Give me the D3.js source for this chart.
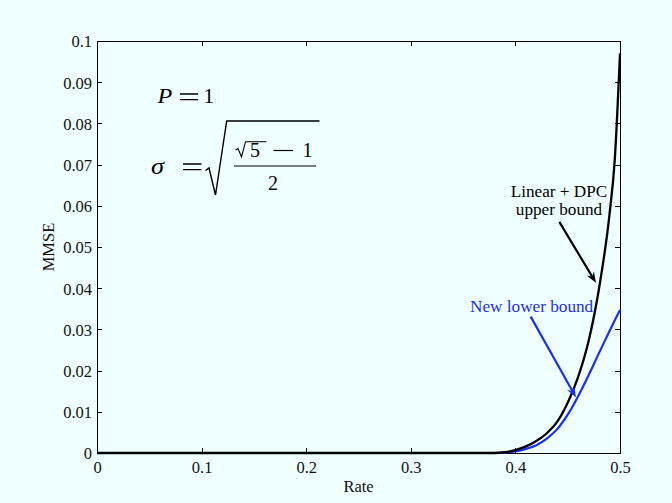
<!DOCTYPE html>
<html>
<head>
<meta charset="utf-8">
<script src="https://cdn.jsdelivr.net/npm/d3@7/dist/d3.min.js"></script>
<style>
  html, body { margin: 0; padding: 0; background: #f0ffff; }
  svg { display: block; }
  text { font-family: "Liberation Serif", "Times New Roman", serif; }
</style>
</head>
<body>
<svg id="chart" width="672" height="503"></svg>
<script>
// ---- data ----
const rate = [0, 0.1, 0.2, 0.3, 0.38, 0.39, 0.40, 0.41, 0.42, 0.43, 0.44, 0.45, 0.46, 0.47, 0.48, 0.49, 0.495, 0.5];
const upperBound = [0, 0, 0, 0, 0, 0.0002, 0.0007, 0.0016, 0.0029, 0.0048, 0.0076, 0.0122, 0.0185, 0.0272, 0.0400, 0.0580, 0.0712, 0.0970];
const lowerBound = [0, 0, 0, 0, 0, 0.0001, 0.0004, 0.0010, 0.0019, 0.0035, 0.0058, 0.0093, 0.0138, 0.0189, 0.0243, 0.0296, 0.0322, 0.0347];
const xTicks = [0, 0.1, 0.2, 0.3, 0.4, 0.5];
const xTickLabels = ["0", "0.1", "0.2", "0.3", "0.4", "0.5"];
const yTicks = [0, 0.01, 0.02, 0.03, 0.04, 0.05, 0.06, 0.07, 0.08, 0.09, 0.1];
const yTickLabels = ["0", "0.01", "0.02", "0.03", "0.04", "0.05", "0.06", "0.07", "0.08", "0.09", "0.1"];
const xLabel = "Rate";
const yLabel = "MMSE";
const upperLabel = ["Linear + DPC", "upper bound"];
const lowerLabel = "New lower bound";

// ---- layout ----
const svg = d3.select("#chart");
const W = 672, H = 503;
const m = { left: 97, right: 620, top: 41, bottom: 453 };
const blue = "#1a2dff";

svg.append("rect").attr("width", W).attr("height", H).attr("fill", "#f0ffff");

const x = d3.scaleLinear().domain([0, 0.5]).range([m.left, m.right]);
const y = d3.scaleLinear().domain([0, 0.1]).range([m.bottom, m.top]);

const fs = 16.5;

// axes (ticks inward, box on all four sides)
const gx = svg.append("g").attr("transform", `translate(0,${m.bottom})`)
  .call(d3.axisBottom(x).tickValues(xTicks).tickFormat((d, i) => xTickLabels[i])
    .tickSizeInner(-5).tickSizeOuter(0).tickPadding(8.5));
const gy = svg.append("g").attr("transform", `translate(${m.left},0)`)
  .call(d3.axisLeft(y).tickValues(yTicks).tickFormat((d, i) => yTickLabels[i])
    .tickSizeInner(-5).tickSizeOuter(0).tickPadding(5));
const gt = svg.append("g").attr("transform", `translate(0,${m.top})`)
  .call(d3.axisTop(x).tickValues(xTicks).tickFormat("").tickSizeInner(-5).tickSizeOuter(0));
const gr = svg.append("g").attr("transform", `translate(${m.right},0)`)
  .call(d3.axisRight(y).tickValues(yTicks).tickFormat("").tickSizeInner(-5).tickSizeOuter(0));

[gx, gy, gt, gr].forEach(g => {
  g.attr("font-family", "Liberation Serif, serif");
  g.selectAll("path.domain").attr("stroke", "#000").attr("stroke-width", 1.1).attr("shape-rendering", "crispEdges");
  g.selectAll(".tick line").attr("stroke", "#000").attr("stroke-width", 1).attr("shape-rendering", "crispEdges");
  g.selectAll(".tick text").attr("font-family", "Liberation Serif, serif").attr("font-size", fs).attr("fill", "#111");
});
gy.selectAll(".tick text").attr("dy", "0.36em");

// axis labels
svg.append("text").attr("x", (m.left + m.right) / 2).attr("y", 492)
  .attr("text-anchor", "middle").attr("font-size", 16.5).attr("fill", "#111").text(xLabel);
svg.append("text").attr("transform", `translate(53.5,${(m.top + m.bottom) / 2}) rotate(-90)`)
  .attr("text-anchor", "middle").attr("font-size", 16.5).attr("fill", "#111").text(yLabel);

// ---- curves ----
const line = d3.line().x(d => x(d[0])).y(d => y(d[1])).curve(d3.curveMonotoneX);
svg.append("path").datum(rate.map((r, i) => [r, lowerBound[i]]))
  .attr("d", line).attr("fill", "none").attr("stroke", blue).attr("stroke-width", 2.2);
svg.append("path").datum(rate.map((r, i) => [r, upperBound[i]]))
  .attr("d", line).attr("fill", "none").attr("stroke", "#000").attr("stroke-width", 2.3);

// ---- annotations ----
function arrow(x0, y0, x1, y1, color) {
  const p0 = [x(x0), y(y0)], p1 = [x(x1), y(y1)];
  const dx = p1[0] - p0[0], dy = p1[1] - p0[1];
  const L = Math.hypot(dx, dy), ux = dx / L, uy = dy / L;
  const hl = 11, hw = 4.2, notch = 7;
  const base = [p1[0] - ux * hl, p1[1] - uy * hl];
  const nb = [p1[0] - ux * notch, p1[1] - uy * notch];
  svg.append("line").attr("x1", p0[0]).attr("y1", p0[1]).attr("x2", nb[0]).attr("y2", nb[1])
    .attr("stroke", color).attr("stroke-width", 2.2);
  const pts = [p1, [base[0] - uy * hw, base[1] + ux * hw], nb, [base[0] + uy * hw, base[1] - ux * hw]];
  svg.append("polygon").attr("points", pts.map(p => p.join(",")).join(" ")).attr("fill", color);
}

const afs = 17.2;
svg.append("text").attr("x", x(0.4417)).attr("y", y(0.0622)).attr("text-anchor", "middle")
  .attr("font-size", afs).attr("fill", "#000").text(upperLabel[0]);
svg.append("text").attr("x", x(0.4417)).attr("y", y(0.0578)).attr("text-anchor", "middle")
  .attr("font-size", afs).attr("fill", "#000").text(upperLabel[1]);
arrow(0.442, 0.0561, 0.477, 0.0413, "#000");

svg.append("text").attr("x", x(0.4155)).attr("y", y(0.0343)).attr("text-anchor", "middle")
  .attr("font-size", afs).attr("fill", blue).text(lowerLabel);
arrow(0.4146, 0.0331, 0.4579, 0.0135, blue);

// ---- formula P = 1, sigma = sqrt((sqrt5 - 1)/2) ----
const f = svg.append("g").attr("fill", "#000");
const mfs = 20;
f.append("text").attr("transform", "translate(157.5,102.7) scale(1.15,1)").attr("font-size", 21)
  .attr("font-style", "italic").text("P");
f.append("path").attr("d", "M180,94 H198 M180,99.6 H198").attr("stroke", "#000").attr("stroke-width", 1.3);
f.append("text").attr("x", 203.5).attr("y", 102.7).attr("font-size", 21).text("1");

f.append("text").attr("transform", "translate(151,174) scale(1.15,1)").attr("font-size", 23)
  .attr("font-style", "italic").text("σ");
f.append("path").attr("d", "M183,164 H201.5 M183,169.6 H201.5").attr("stroke", "#000").attr("stroke-width", 1.3);
// outer radical
f.append("path").attr("d", "M205.5,170.5 L209,168 L215.5,195 L226.7,121 L319.5,121")
  .attr("fill", "none").attr("stroke", "#000").attr("stroke-width", 1.4).attr("stroke-linejoin", "miter");
// inner radical
f.append("path").attr("d", "M235.5,150 L238,148.5 L241.5,157 L245.5,141.7 L266.5,141.7")
  .attr("fill", "none").attr("stroke", "#000").attr("stroke-width", 1.1);
f.append("text").attr("x", 250).attr("y", 156.7).attr("font-size", mfs).text("5");
f.append("path").attr("d", "M273.5,150.5 H293").attr("stroke", "#000").attr("stroke-width", 1.2);
f.append("text").attr("x", 302.5).attr("y", 156.7).attr("font-size", mfs).text("1");
// fraction bar
f.append("path").attr("d", "M234,166 H316").attr("stroke", "#000").attr("stroke-width", 1.2);
f.append("text").attr("x", 268).attr("y", 190).attr("font-size", mfs).text("2");
</script>
</body>
</html>
